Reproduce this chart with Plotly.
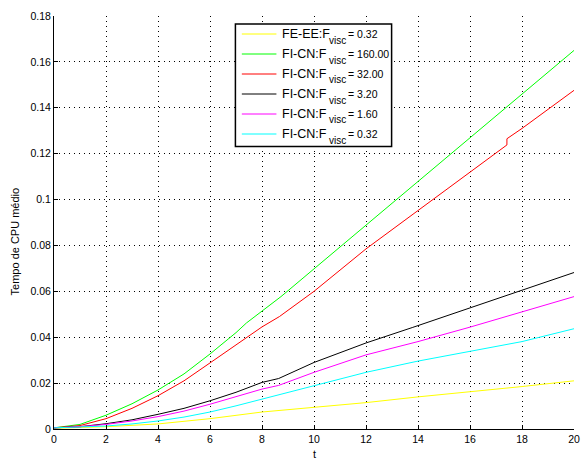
import plotly.graph_objects as go

# ---- data ----
t_yellow = [0, 2, 4, 6, 8, 10, 12, 14, 16, 18, 20]
v_yellow = [0.0003, 0.001, 0.0022, 0.0045, 0.0074, 0.0093, 0.0115, 0.014, 0.0162, 0.0185, 0.021]

t_green = [0, 1, 2, 3, 4, 5, 6, 7, 7.4, 8, 8.73, 10, 12, 14, 16, 18, 20]
v_green = [0.0005, 0.002, 0.006, 0.011, 0.017, 0.024, 0.0327, 0.042, 0.0462, 0.0515, 0.0577,
           0.0698, 0.0888, 0.108, 0.127, 0.146, 0.165]

t_red = [0, 1, 2, 3, 4, 5, 6, 7, 8, 8.67, 10, 12, 14, 16, 17.42, 17.42, 18, 20]
v_red = [0.0005, 0.0015, 0.0045, 0.009, 0.0145, 0.021, 0.0288, 0.0365, 0.0445, 0.049, 0.060,
         0.0785, 0.0951, 0.112, 0.1238, 0.1265, 0.131, 0.1476]

t_black = [0, 1, 2, 3, 4, 5, 6, 7, 8, 8.64, 10, 12, 13.8, 16, 18, 20]
v_black = [0.0005, 0.001, 0.0023, 0.004, 0.0064, 0.009, 0.0123, 0.016, 0.0203, 0.022, 0.029,
           0.0375, 0.0443, 0.0528, 0.0605, 0.0682]

t_magenta = [0, 1, 2, 3, 4, 5, 6, 7, 8, 8.64, 10, 12, 14, 16, 18, 20]
v_magenta = [0.0005, 0.001, 0.002, 0.0035, 0.0054, 0.0078, 0.0108, 0.014, 0.0174, 0.019, 0.0247,
             0.0323, 0.0381, 0.0444, 0.051, 0.0577]

t_cyan = [0, 1, 2, 3, 4, 5, 6, 7, 8, 9, 10, 12, 14, 16, 18, 20]
v_cyan = [0.0005, 0.0008, 0.0013, 0.0022, 0.0035, 0.0052, 0.0074, 0.0101, 0.013, 0.016, 0.0191,
          0.0247, 0.0296, 0.0337, 0.0381, 0.0437]

legend_prefix = ["FE-EE:F", "FI-CN:F", "FI-CN:F", "FI-CN:F", "FI-CN:F", "FI-CN:F"]
legend_value = ["= 0.32", "= 160.00", "= 32.00", "= 3.20", "= 1.60", "= 0.32"]
colors = ["#ffff00", "#00ff00", "#ff0000", "#000000", "#ff00ff", "#00ffff"]
t_series = [t_yellow, t_green, t_red, t_black, t_magenta, t_cyan]
v_series = [v_yellow, v_green, v_red, v_black, v_magenta, v_cyan]

x_ticks = list(range(0, 21, 2))
y_ticks = [0, 0.02, 0.04, 0.06, 0.08, 0.1, 0.12, 0.14, 0.16, 0.18]
y_ticklabels = ["0", "0.02", "0.04", "0.06", "0.08", "0.1", "0.12", "0.14", "0.16", "0.18"]

FONT = "Liberation Sans, Arial, Helvetica, sans-serif"
W, H = 586, 459
ML, MR, MT, MB = 54, 6, 16, 30
PW, PH = W - ML - MR, H - MT - MB


def px(xp):
    return (xp - ML) / PW


def py(yp):
    return (H - MB - yp) / PH


fig = go.Figure()
for name_p, name_v, t, v, c in zip(legend_prefix, legend_value, t_series, v_series, colors):
    fig.add_trace(go.Scatter(x=t, y=v, mode="lines",
                             name=f"{name_p}<sub>visc</sub> {name_v}",
                             line=dict(color=c, width=1), showlegend=False))

axis_common = dict(
    showline=True, linecolor="black", linewidth=1, mirror=False,
    ticks="inside", ticklen=4, tickcolor="black", tickwidth=1,
    showgrid=True, gridcolor="black", gridwidth=1, griddash="1px,4px",
    zeroline=False, tickfont=dict(family=FONT, size=10.5, color="black"),
)

shapes = []
annotations = []

# legend box (manual, to reproduce the subscript layout)
box_l, box_r, box_t, box_b = 237.5, 395.5, 24, 146.5
shapes.append(dict(type="rect", xref="paper", yref="paper", layer="above",
                   x0=px(box_l), x1=px(box_r), y0=py(box_b), y1=py(box_t),
                   line=dict(color="black", width=1.5), fillcolor="white"))
row_y = [34, 54, 74, 94, 114, 134]
for i, (pre, val, c) in enumerate(zip(legend_prefix, legend_value, colors)):
    yy = row_y[i]
    shapes.append(dict(type="line", xref="paper", yref="paper", layer="above",
                       x0=px(244), x1=px(279), y0=py(yy), y1=py(yy),
                       line=dict(color=c, width=1)))
    annotations.append(dict(xref="paper", yref="paper", x=px(283), y=py(yy),
                            text=pre, showarrow=False, xanchor="left", yanchor="middle",
                            font=dict(family=FONT, size=12.5, color="black")))
    annotations.append(dict(xref="paper", yref="paper", x=px(330), y=py(yy + 6),
                            text="visc", showarrow=False, xanchor="left", yanchor="middle",
                            font=dict(family=FONT, size=10, color="black")))
    annotations.append(dict(xref="paper", yref="paper", x=px(349), y=py(yy),
                            text=val, showarrow=False, xanchor="left", yanchor="middle",
                            font=dict(family=FONT, size=10.5, color="black")))

# y axis title
annotations.append(dict(xref="paper", yref="paper", x=px(15), y=py(241),
                        text="Tempo de CPU médio", showarrow=False, textangle=-90,
                        xanchor="center", yanchor="middle",
                        font=dict(family=FONT, size=11, color="black")))
# x axis title
annotations.append(dict(xref="paper", yref="paper", x=px(317), y=py(454),
                        text="t", showarrow=False, xanchor="center", yanchor="middle",
                        font=dict(family=FONT, size=11, color="black")))

fig.update_layout(
    width=W, height=H,
    margin=dict(l=ML, r=MR, t=MT, b=MB),
    paper_bgcolor="white", plot_bgcolor="white",
    font=dict(family=FONT, size=10, color="black"),
    xaxis=dict(range=[0, 20], tickvals=x_ticks, **axis_common),
    yaxis=dict(range=[0, 0.18], tickvals=y_ticks, ticktext=y_ticklabels, **axis_common),
    shapes=shapes, annotations=annotations,
    showlegend=False,
)

fig.write_html("out.html")
